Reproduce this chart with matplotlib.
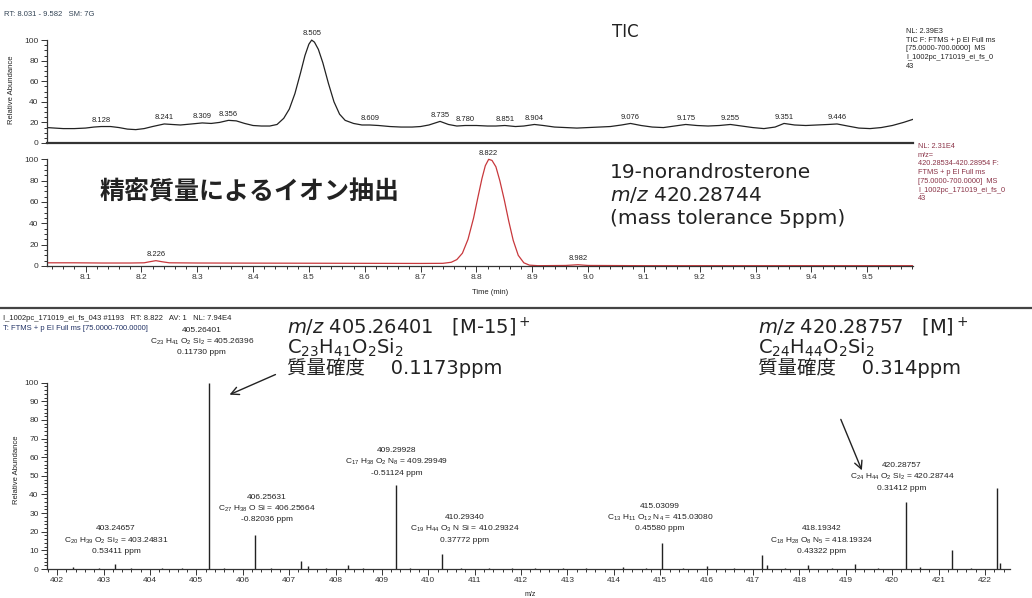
import matplotlib
matplotlib.use("Agg")
import matplotlib.pyplot as plt
from matplotlib.ticker import MultipleLocator, FixedLocator

plt.rcParams['font.family'] = ['DejaVu Sans', 'Noto Sans CJK JP']
plt.rcParams['mathtext.default'] = 'regular'

W, H = 1032, 598

# TIC chromatogram (time min, relative abundance %)
tic_points = [
    (8.031, 15), (8.045, 14.5), (8.06, 14), (8.08, 14), (8.10, 14.5), (8.115, 15.5),
    (8.128, 16), (8.145, 16), (8.16, 15), (8.175, 13.5), (8.19, 13), (8.205, 14),
    (8.22, 16), (8.241, 18.5), (8.255, 18), (8.27, 17.5), (8.29, 18.5), (8.309, 19.5),
    (8.325, 19), (8.34, 20), (8.356, 22), (8.37, 21.5), (8.385, 19), (8.40, 17),
    (8.415, 16.5), (8.43, 16.5), (8.443, 18), (8.455, 24), (8.465, 33), (8.475, 48),
    (8.485, 68), (8.493, 85), (8.50, 96), (8.505, 100), (8.51, 98), (8.517, 91),
    (8.525, 78), (8.535, 58), (8.545, 40), (8.555, 28), (8.565, 22), (8.58, 19),
    (8.595, 17.5), (8.609, 17.5), (8.625, 17), (8.645, 16), (8.665, 15.5), (8.685, 15.5),
    (8.70, 16), (8.715, 17.5), (8.735, 21), (8.75, 18), (8.765, 16.5), (8.780, 17),
    (8.80, 17), (8.82, 16.5), (8.835, 16.5), (8.851, 17), (8.87, 16), (8.885, 16.5),
    (8.904, 18), (8.92, 17), (8.94, 15.5), (8.96, 15), (8.98, 14.5), (9.00, 15),
    (9.02, 15.5), (9.04, 16), (9.06, 17.5), (9.076, 19), (9.095, 17), (9.115, 15.5),
    (9.135, 15), (9.155, 16.5), (9.175, 18), (9.195, 17), (9.215, 16.5), (9.235, 17),
    (9.255, 18), (9.275, 16.5), (9.295, 15), (9.315, 14), (9.335, 15.5), (9.351, 19),
    (9.37, 17.5), (9.39, 17), (9.41, 17.5), (9.43, 18), (9.446, 18.5), (9.465, 16.5),
    (9.485, 14.5), (9.505, 14), (9.525, 15), (9.545, 17), (9.565, 20), (9.582, 23),
]
tic_labels = [8.128, 8.241, 8.309, 8.356, 8.505, 8.609, 8.735, 8.780, 8.851,
              8.904, 9.076, 9.175, 9.255, 9.351, 9.446]

# extracted ion chromatogram m/z 420.28744
xic_points = [
    (8.031, 3), (8.08, 3), (8.13, 2.8), (8.18, 2.8), (8.205, 3), (8.215, 4),
    (8.226, 5), (8.237, 4), (8.25, 3), (8.30, 2.8), (8.40, 2.7), (8.50, 2.6),
    (8.60, 2.5), (8.70, 2.4), (8.74, 2.5), (8.755, 3.5), (8.765, 6), (8.775, 12),
    (8.785, 25), (8.795, 45), (8.803, 65), (8.81, 82), (8.816, 94), (8.822, 100),
    (8.828, 99), (8.835, 93), (8.842, 80), (8.85, 62), (8.858, 42), (8.866, 24),
    (8.875, 10), (8.885, 3), (8.895, 0.8), (8.91, 0.3), (8.96, 0.5), (8.982, 1.2),
    (9.00, 0.5), (9.10, 0.3), (9.30, 0.3), (9.50, 0.3), (9.582, 0.3),
]
xic_labels = [8.226, 8.822, 8.982]

# mass spectrum at RT 8.822
ms_mz = [402.35, 402.9, 403.247, 403.6, 404.25, 404.7, 405.264, 405.6, 406.256, 406.6,
         407.26, 407.4, 407.8, 408.27, 408.6, 409.299, 409.6, 410.293, 410.7, 411.3,
         411.8, 412.3, 412.9, 413.4, 414.2, 414.7, 415.031, 415.5, 416.0, 416.6,
         417.2, 417.3, 417.7, 418.193, 418.7, 419.2, 419.7, 420.288, 420.6, 421.29,
         421.7, 422.25, 422.32]
ms_int = [1.0, 0.6, 2.5, 0.8, 0.8, 0.6, 100, 0.8, 18.5, 0.7,
          4.5, 1.5, 0.8, 2.0, 0.7, 45, 0.8, 8.0, 0.7, 0.8,
          0.6, 0.8, 0.6, 0.6, 1.0, 0.8, 14, 0.8, 1.5, 0.8,
          7.5, 2.0, 0.8, 2.0, 0.7, 2.5, 0.8, 36, 0.9, 10,
          0.8, 43.5, 3.0]

# peak annotations: (label x, label top y, text)
ms_notes = [
    (403.27, 23.5, "403.24657\nC$_{20}$ H$_{39}$ O$_2$ Si$_2$ = 403.24831\n0.53411 ppm"),
    (405.12, 130, "405.26401\nC$_{23}$ H$_{41}$ O$_2$ Si$_2$ = 405.26396\n0.11730 ppm"),
    (406.52, 40.5, "406.25631\nC$_{27}$ H$_{38}$ O Si = 406.25664\n-0.82036 ppm"),
    (409.32, 65.5, "409.29928\nC$_{17}$ H$_{38}$ O$_2$ N$_8$ = 409.29949\n-0.51124 ppm"),
    (410.79, 29.5, "410.29340\nC$_{19}$ H$_{44}$ O$_3$ N Si = 410.29324\n0.37772 ppm"),
    (414.99, 35.5, "415.03099\nC$_{13}$ H$_{11}$ O$_{12}$ N$_4$ = 415.03080\n0.45580 ppm"),
    (418.48, 23.5, "418.19342\nC$_{18}$ H$_{28}$ O$_8$ N$_5$ = 418.19324\n0.43322 ppm"),
    (420.21, 57.5, "420.28757\nC$_{24}$ H$_{44}$ O$_2$ Si$_2$ = 420.28744\n0.31412 ppm"),
]

small = ['Liberation Sans', 'DejaVu Sans']
ink = '#222222'


def fpos(x, y):
    return x / W, 1 - y / H


def style_axes(ax):
    for s in ['top', 'right']:
        ax.spines[s].set_visible(False)
    for s in ['left', 'bottom']:
        ax.spines[s].set_color('#333333')
        ax.spines[s].set_linewidth(0.9)
    ax.tick_params(which='both', direction='out', labelsize=6, colors='#333333',
                   width=0.7, pad=2)
    ax.tick_params(which='major', length=4)
    ax.tick_params(which='minor', length=2)
    for lab in ax.get_xticklabels() + ax.get_yticklabels():
        lab.set_family(small)


fig = plt.figure(figsize=(W / 100, H / 100), dpi=100)

# ---- TIC ----
ax1 = fig.add_axes([47 / W, 1 - 143 / H, 866 / W, 106 / H])
t1 = [p[0] for p in tic_points]
v1 = [p[1] for p in tic_points]
ax1.plot(t1, v1, color=ink, linewidth=0.9)
ax1.set_xlim(8.031, 9.582)
ax1.set_ylim(0, 103)
ax1.set_yticks(range(0, 101, 20))
ax1.yaxis.set_minor_locator(FixedLocator(range(0, 101, 5)))
style_axes(ax1)
ax1.spines['left'].set_bounds(0, 100)
ax1.spines['bottom'].set_linewidth(1.6)
ax1.tick_params(axis='x', which='both', bottom=False, labelbottom=False)
for t in tic_labels:
    v = v1[t1.index(t)]
    ax1.annotate(f"{t:.3f}", (t, v), xytext=(0, 2), textcoords='offset points',
                 ha='center', va='bottom', fontsize=5.5, family=small, color=ink,
                 annotation_clip=False)

# ---- XIC ----
ax2 = fig.add_axes([47 / W, 1 - 266 / H, 866 / W, 112 / H])
t2 = [p[0] for p in xic_points]
v2 = [p[1] for p in xic_points]
ax2.plot(t2, v2, color='#c8383c', linewidth=0.9)
ax2.set_xlim(8.031, 9.582)
ax2.set_ylim(0, 105)
ax2.set_yticks(range(0, 101, 20))
ax2.yaxis.set_minor_locator(FixedLocator(range(0, 101, 5)))
ax2.set_xticks([round(8.1 + 0.1 * i, 1) for i in range(15)])
ax2.set_xticklabels([f"{8.1 + 0.1 * i:.1f}" for i in range(15)])
ax2.xaxis.set_minor_locator(MultipleLocator(0.02))
style_axes(ax2)
ax2.spines['left'].set_bounds(0, 100)
for t in xic_labels:
    v = v2[t2.index(t)]
    ax2.annotate(f"{t:.3f}", (t, v), xytext=(0, 2), textcoords='offset points',
                 ha='center', va='bottom', fontsize=5.5, family=small, color=ink,
                 annotation_clip=False)

# ---- mass spectrum ----
ax3 = fig.add_axes([47 / W, 1 - 569 / H, 963 / W, 244 / H])
ax3.vlines(ms_mz, 0, ms_int, color=ink, linewidth=1.0)
ax3.set_xlim(401.78, 422.54)
ax3.set_ylim(0, 131)
ax3.set_xticks(range(402, 423))
ax3.xaxis.set_minor_locator(MultipleLocator(0.2))
ax3.set_yticks(range(0, 101, 10))
ax3.yaxis.set_minor_locator(FixedLocator(range(0, 101, 2)))
style_axes(ax3)
ax3.spines['left'].set_bounds(0, 100)
for x, y, txt in ms_notes:
    ax3.text(x, y, txt, ha='center', va='top', fontsize=6, family=small,
             color=ink, linespacing=1.45, clip_on=False)

ax3.annotate("", xy=(405.66, 93), xytext=(406.76, 105),
             arrowprops=dict(arrowstyle='->', color=ink, lw=1.0,
                             mutation_scale=14), annotation_clip=False)
ax3.annotate("", xy=(419.37, 51.6), xytext=(418.87, 81.7),
             arrowprops=dict(arrowstyle='->', color=ink, lw=1.0,
                             mutation_scale=14), annotation_clip=False)

# ---- header / side texts ----
fig.text(*fpos(4, 15), "RT: 8.031 - 9.582   SM: 7G", fontsize=5.5, family=small,
         color='#334455', va='center')
fig.text(*fpos(625, 32), "TIC", fontsize=12, ha='center', va='center', color=ink)
fig.text(*fpos(906, 28), "NL: 2.39E3\nTIC F: FTMS + p EI Full ms\n[75.0000-700.0000]  MS\n"
         "I_1002pc_171019_ei_fs_0\n43", fontsize=5.3, family=small, color=ink,
         va='top', linespacing=1.35)
fig.text(*fpos(918, 143), "NL: 2.31E4\nm/z=\n420.28534-420.28954 F:\nFTMS + p EI Full ms\n"
         "[75.0000-700.0000]  MS\nI_1002pc_171019_ei_fs_0\n43", fontsize=5.3,
         family=small, color='#8b3448', va='top', linespacing=1.35)
fig.text(*fpos(12, 90), "Relative Abundance", rotation=90, fontsize=5.5,
         family=small, color=ink, ha='center', va='center')
fig.text(*fpos(17, 470), "Relative Abundance", rotation=90, fontsize=5.5,
         family=small, color=ink, ha='center', va='center')
fig.text(*fpos(490, 292), "Time (min)", fontsize=5.5, family=small, color=ink,
         ha='center', va='center')
fig.text(*fpos(530, 594), "m/z", fontsize=5, family=small, color=ink,
         ha='center', va='center')

fig.text(*fpos(100, 193), "精密質量によるイオン抽出", fontsize=18, weight='bold',
         family=['Noto Sans CJK JP'], color=ink, va='center')
fig.text(*fpos(610, 172), "19-norandrosterone", fontsize=14.5, color=ink, va='center')
fig.text(*fpos(610, 195), "$\\mathit{m/z}$ 420.28744", fontsize=14.5, color=ink,
         va='center')
fig.text(*fpos(610, 218), "(mass tolerance 5ppm)", fontsize=14.5, color=ink,
         va='center')

fig.add_artist(plt.Line2D([0, 1], [1 - 308 / H, 1 - 308 / H], color='#444444',
                          linewidth=1.6, transform=fig.transFigure))
fig.text(*fpos(3, 319), "I_1002pc_171019_ei_fs_043 #1193   RT: 8.822   AV: 1   NL: 7.94E4",
         fontsize=5.5, family=small, color=ink, va='center')
fig.text(*fpos(3, 329), "T: FTMS + p EI Full ms [75.0000-700.0000]", fontsize=5.5,
         family=small, color='#223366', va='center')

for x0, lines in [(287, ["$\\mathit{m/z}$ 405.26401   [M-15]$^+$",
                         "C$_{23}$H$_{41}$O$_2$Si$_2$",
                         "質量確度\u3000 0.1173ppm"]),
                  (758, ["$\\mathit{m/z}$ 420.28757   [M]$^+$",
                         "C$_{24}$H$_{44}$O$_2$Si$_2$",
                         "質量確度\u3000 0.314ppm"])]:
    for k, s in enumerate(lines):
        fig.text(*fpos(x0, 327 + 20.5 * k), s, fontsize=14, color=ink, va='center')

fig.savefig("out.png", dpi=100)
